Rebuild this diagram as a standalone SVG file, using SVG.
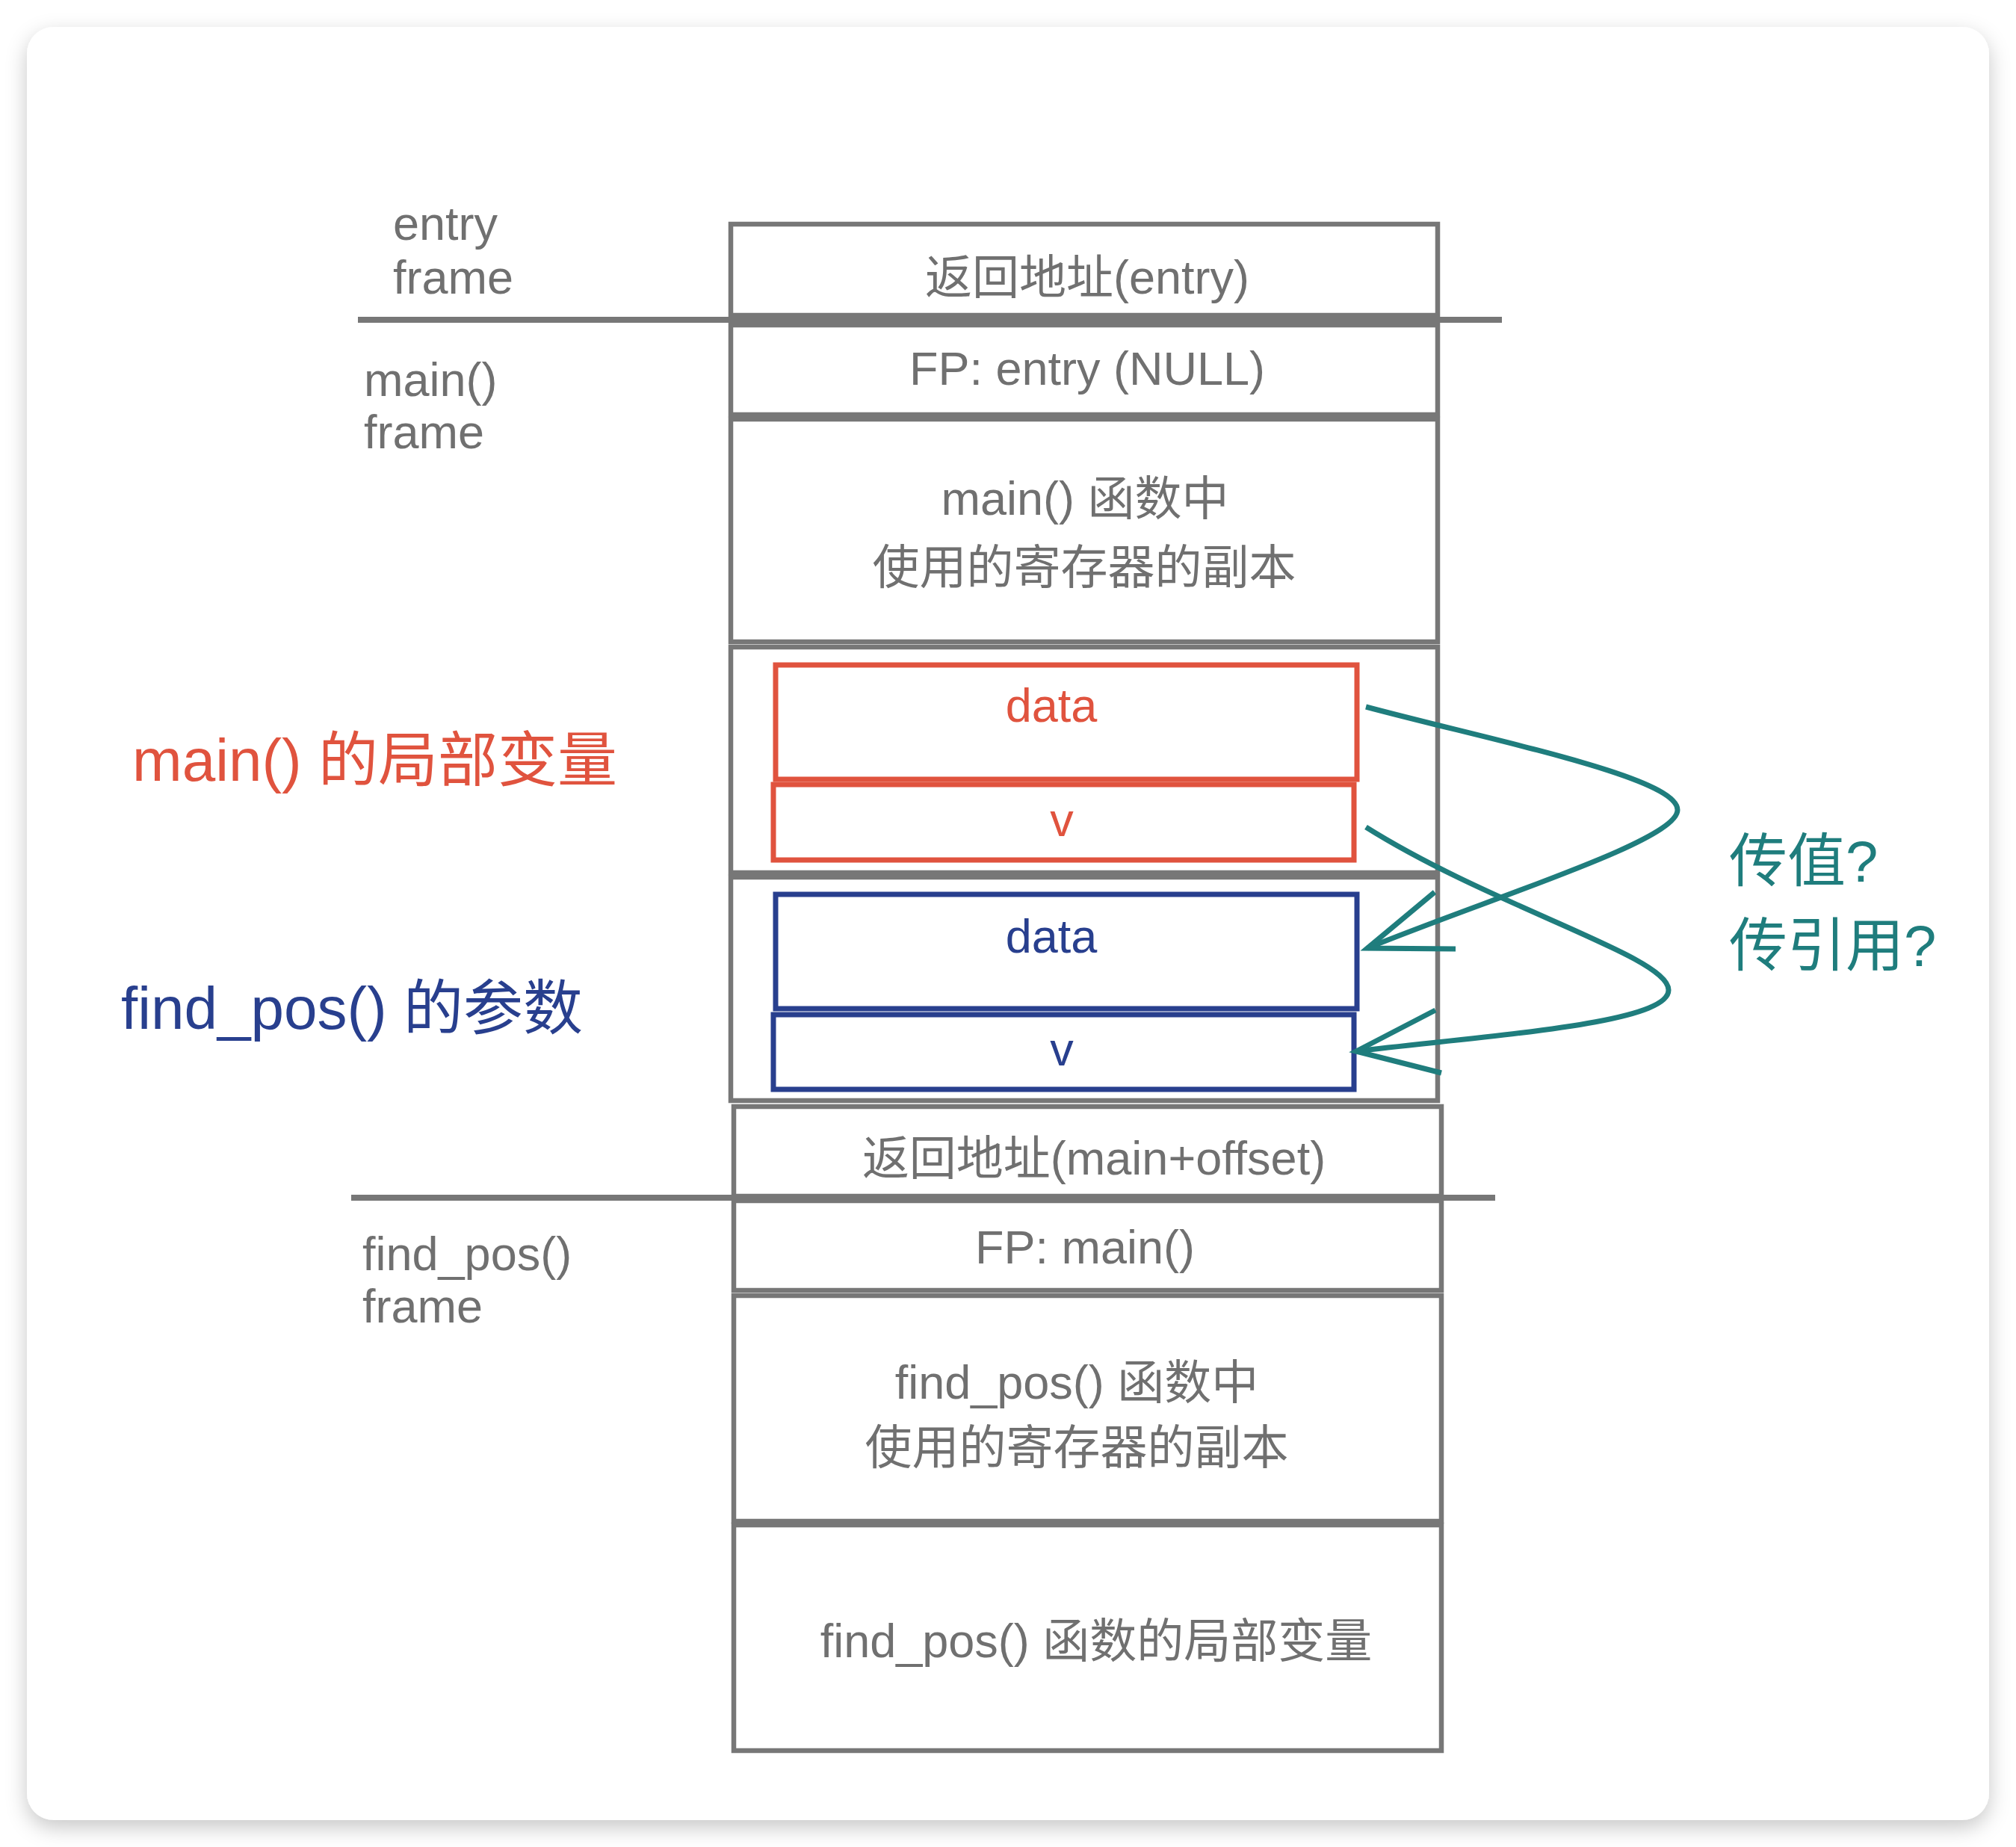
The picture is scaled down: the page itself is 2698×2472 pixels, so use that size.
<svg xmlns="http://www.w3.org/2000/svg" width="2698" height="2472" viewBox="0 0 2698 2472">
<defs>
<filter id="shadow" x="-5%" y="-5%" width="110%" height="110%">
<feDropShadow dx="0" dy="10" stdDeviation="14" flood-color="#000" flood-opacity="0.22"/>
</filter>
<style>
text{font-family:"Liberation Sans","Noto Sans CJK SC",sans-serif;}
.cell{fill:none;stroke:#777;stroke-width:6.5;}
.div{stroke:#777;stroke-width:8;}
.st{fill:#707070;font-size:63px;text-anchor:middle;}
.lbl{fill:#707070;font-size:63px;}
.red{fill:none;stroke:#e0533e;stroke-width:7;}
.blue{fill:none;stroke:#283f8e;stroke-width:7;}
.rt{fill:#e0533e;font-size:63px;text-anchor:middle;}
.bt{fill:#283f8e;font-size:63px;text-anchor:middle;}
.teal{fill:none;stroke:#1f7d7d;stroke-width:7;stroke-linecap:butt;stroke-linejoin:miter;}
.tt{fill:#1f7d7d;font-size:78px;}
</style>
</defs>
<rect x="0" y="0" width="2698" height="2472" fill="#ffffff"/>
<rect id="card" x="36" y="36" width="2626" height="2400" rx="36" fill="#ffffff" filter="url(#shadow)"/>

<g id="frame-labels">
<text class="lbl" x="526" y="321">entry</text>
<text class="lbl" x="526" y="393">frame</text>
<text class="lbl" x="487" y="530">main()</text>
<text class="lbl" x="487" y="600">frame</text>
<text class="lbl" x="485" y="1700">find_pos()</text>
<text class="lbl" x="485" y="1770">frame</text>
</g>

<g id="dividers">
<line class="div" x1="479" y1="428" x2="2010" y2="428"/>
<line class="div" x1="470" y1="1603" x2="2001" y2="1603"/>
</g>

<g id="ret-entry">
<rect class="cell" x="978" y="300" width="946" height="122"/>
<text class="st" x="1455" y="393">返回地址(entry)</text>
</g>
<g id="fp-entry">
<rect class="cell" x="978" y="435" width="946" height="120"/>
<text class="st" x="1455" y="515">FP: entry (NULL)</text>
</g>
<g id="main-regs">
<rect class="cell" x="978" y="561" width="946" height="298"/>
<text class="st" x="1452" y="689">main() 函数中</text>
<text class="st" x="1451" y="781">使用的寄存器的副本</text>
</g>
<g id="main-locals">
<rect class="cell" x="978" y="866" width="946" height="302"/>
<rect class="red" x="1038" y="890" width="778" height="153"/>
<text class="rt" x="1407" y="966">data</text>
<rect class="red" x="1035" y="1050" width="777" height="101"/>
<text class="rt" x="1421" y="1119">v</text>
</g>
<g id="findpos-params">
<rect class="cell" x="978" y="1174" width="946" height="299"/>
<rect class="blue" x="1038" y="1197" width="778" height="153"/>
<text class="bt" x="1407" y="1275">data</text>
<rect class="blue" x="1035" y="1358" width="777" height="100"/>
<text class="bt" x="1421" y="1426">v</text>
</g>
<g id="ret-main">
<rect class="cell" x="982" y="1481" width="947" height="120"/>
<text class="st" x="1464" y="1572">返回地址(main+offset)</text>
</g>
<g id="fp-main">
<rect class="cell" x="982" y="1607" width="947" height="120"/>
<text class="st" x="1452" y="1691">FP: main()</text>
</g>
<g id="findpos-regs">
<rect class="cell" x="982" y="1734" width="947" height="302"/>
<text class="st" x="1441" y="1872">find_pos() 函数中</text>
<text class="st" x="1441" y="1959">使用的寄存器的副本</text>
</g>
<g id="findpos-locals">
<rect class="cell" x="982" y="2041" width="947" height="302"/>
<text class="st" x="1467" y="2218">find_pos() 函数的局部变量</text>
</g>

<g id="side-labels">
<text x="177" y="1045" font-size="80" fill="#e0533e">main() 的局部变量</text>
<text x="162" y="1377" font-size="80" fill="#283f8e">find_pos() 的参数</text>
<text class="tt" x="2314" y="1180">传值?</text>
<text class="tt" x="2314" y="1293">传引用?</text>
</g>

<g id="connectors">
<path class="teal" d="M1828,946 C2000,992 2245,1040 2245,1084 C2245,1125 2000,1200 1830,1269"/>
<path class="teal" d="M1920,1194 L1830,1269 L1948,1270"/>
<path class="teal" d="M1828,1107 C2000,1215 2233,1280 2233,1325 C2233,1370 2000,1385 1815,1407"/>
<path class="teal" d="M1921,1352 L1815,1407 L1929,1436"/>
</g>
</svg>
